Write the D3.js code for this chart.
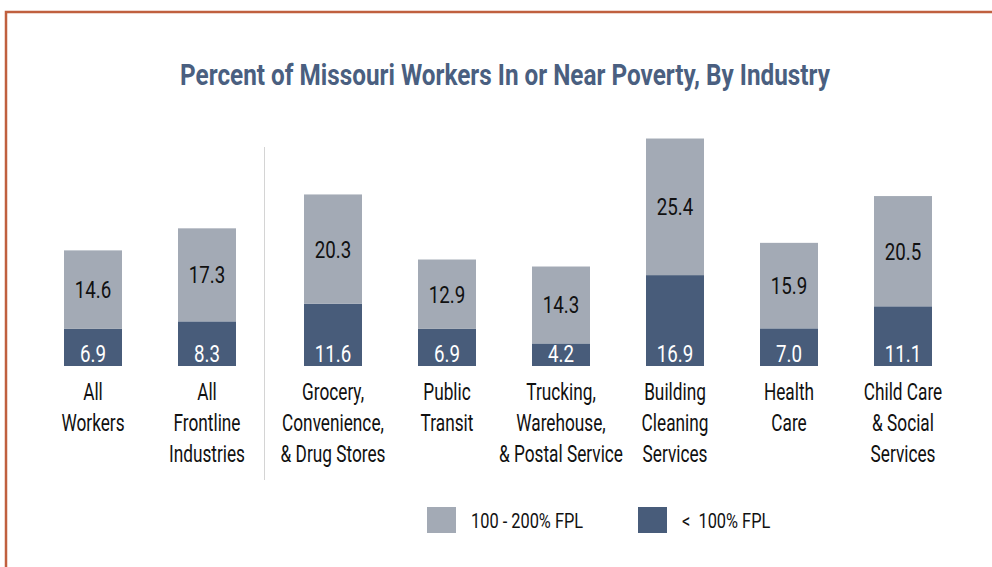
<!DOCTYPE html>
<html>
<head>
<meta charset="utf-8">
<script src="https://cdn.jsdelivr.net/npm/d3@7"></script>
<style>
  html, body { margin: 0; padding: 0; background: #fff; }
  svg { display: block; font-family: "Roboto", "Noto Sans", sans-serif; }
</style>
</head>
<body>
<svg id="chart" width="992" height="567"></svg>
<script>
// Chart data
const categories = [
  ['All', 'Workers'],
  ['All', 'Frontline', 'Industries'],
  ['Grocery,', 'Convenience,', '& Drug Stores'],
  ['Public', 'Transit'],
  ['Trucking,', 'Warehouse,', '& Postal Service'],
  ['Building', 'Cleaning', 'Services'],
  ['Health', 'Care'],
  ['Child Care', '& Social', 'Services']
];
const below100 = [6.9, 8.3, 11.6, 6.9, 4.2, 16.9, 7.0, 11.1];
const from100to200 = [14.6, 17.3, 20.3, 12.9, 14.3, 25.4, 15.9, 20.5];
const seriesNames = ['100 - 200% FPL', '<  100% FPL'];
const title = 'Percent of Missouri Workers In or Near Poverty, By Industry';

const colors = { light: '#a3aab5', dark: '#485c7a', title: '#4a5f80' };

// The original uses a condensed face, so squeeze the glyphs horizontally
const squeeze = 0.75;
const squeezeNum = 0.78;

const svg = d3.select('#chart');

// Frame
svg.append('path')
  .attr('d', 'M6,567 V12 H992')
  .attr('fill', 'none')
  .attr('stroke', '#c0603f')
  .attr('stroke-width', 2.5);

// Title, fitted to the width of the original
const titleText = svg.append('g')
  .append('text')
  .attr('text-anchor', 'middle')
  .attr('fill', colors.title)
  .style('font-weight', 'bold')
  .style('font-size', '30px')
  .text(title);
const tw = titleText.node().getComputedTextLength();
titleText.attr('transform', `translate(505,85) scale(${650 / tw},1)`);

// Scales
const keys = categories.map((c, i) => i);
const x = d3.scaleBand()
  .domain(keys)
  .range([36, 948])
  .paddingInner(56 / 114)
  .paddingOuter(28 / 114);
const groupGap = 12;
const xpos = i => x(i) + (i >= 2 ? groupGap : 0);
const xmid = i => xpos(i) + x.bandwidth() / 2;

const y = d3.scaleLinear().domain([0, 45]).range([366, 124]);

// Stack the series
const rows = keys.map(i => ({ i, low: below100[i], mid: from100to200[i] }));
const stack = d3.stack().keys(['low', 'mid'])(rows);

const g = svg.append('g');

g.selectAll('.layer')
  .data(stack)
  .join('g')
    .attr('fill', d => d.key === 'low' ? colors.dark : colors.light)
  .selectAll('rect')
  .data(d => d)
  .join('rect')
    .attr('x', d => xpos(d.data.i))
    .attr('y', d => y(d[1]))
    .attr('width', x.bandwidth())
    .attr('height', d => y(d[0]) - y(d[1]));

// Value labels
g.selectAll('.lbl-mid')
  .data(stack[1])
  .join('text')
    .attr('transform', d => `translate(${xmid(d.data.i)},${(y(d[0]) + y(d[1])) / 2 + 8.5}) scale(${squeezeNum},1)`)
    .attr('text-anchor', 'middle')
    .attr('fill', '#111')
    .style('font-size', '24px')
    .text(d => d.data.mid.toFixed(1));

g.selectAll('.lbl-low')
  .data(stack[0])
  .join('text')
    .attr('transform', d => `translate(${xmid(d.data.i)},${y(0) - 4}) scale(${squeezeNum},1)`)
    .attr('text-anchor', 'middle')
    .attr('fill', '#fff')
    .style('font-size', '24px')
    .text(d => d.data.low.toFixed(1));

// Divider between the overall groups and the industries
const divX = xpos(1) + x.bandwidth() + 28.5;
svg.append('line')
  .attr('x1', divX).attr('x2', divX)
  .attr('y1', 147).attr('y2', 480)
  .attr('stroke', '#d4d4d4')
  .attr('stroke-width', 1);

// Category labels
const cat = svg.append('g')
  .selectAll('text')
  .data(categories)
  .join('text')
    .attr('text-anchor', 'middle')
    .attr('fill', '#111')
    .style('font-size', '23px')
    .attr('transform', (d, i) => `translate(${xmid(i)},400) scale(${squeeze},1)`);

cat.selectAll('tspan')
  .data(d => d)
  .join('tspan')
    .attr('x', 0)
    .attr('y', (d, j) => j * 31)
    .text(d => d);

// Legend
const legend = svg.append('g')
  .selectAll('g')
  .data(seriesNames)
  .join('g')
    .attr('transform', (d, i) => `translate(${427 + i * 211},507)`);

legend.append('rect')
  .attr('width', 29)
  .attr('height', 26)
  .attr('fill', (d, i) => i === 0 ? colors.light : colors.dark);

legend.append('text')
  .attr('transform', `translate(44,21) scale(${squeeze + 0.03},1)`)
  .attr('fill', '#111')
  .style('font-size', '21px')
  .style('white-space', 'pre')
  .text(d => d);
</script>
</body>
</html>
